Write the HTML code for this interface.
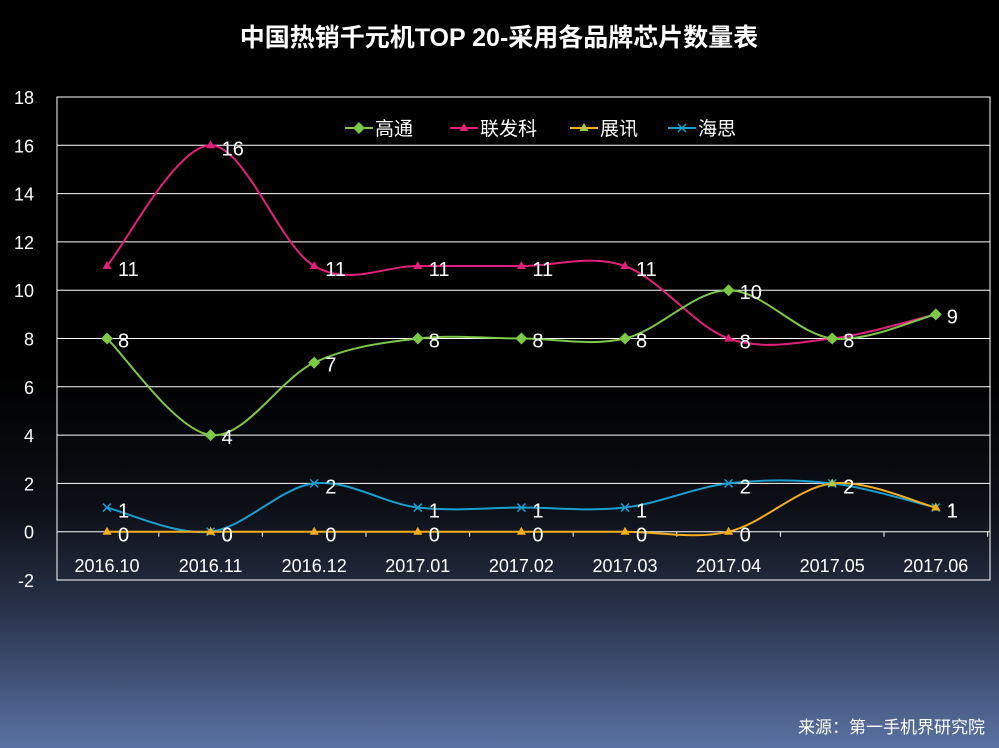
<!DOCTYPE html>
<html><head><meta charset="utf-8"><style>
html,body{margin:0;padding:0}
body{width:999px;height:748px;overflow:hidden;background:linear-gradient(to bottom,#000 0%,#000 50%,#0c0f16 68%,#2a344c 82%,#5a72a3 100%);font-family:"Liberation Sans","Noto Sans CJK SC",sans-serif}
svg{position:absolute;left:0;top:0}
</style></head><body>
<svg width="999" height="748" id="c">
<text x="499" y="46" text-anchor="middle" fill="#fff" font-size="25" font-weight="bold" font-family="Liberation Sans,Noto Sans CJK SC,sans-serif">中国热销千元机TOP 20-采用各品牌芯片数量表</text>
<text x="985" y="733" text-anchor="end" fill="#fff" font-size="17" font-family="Liberation Sans,Noto Sans CJK SC,sans-serif">来源：第一手机界研究院</text>
<g id="grid"></g>
<g id="series"></g>
<g id="legend"></g>
</svg>
<script>
const categories=["2016.10","2016.11","2016.12","2017.01","2017.02","2017.03","2017.04","2017.05","2017.06"];
const yTicks=[-2,0,2,4,6,8,10,12,14,16,18];
const seriesNames=["高通","联发科","展讯","海思"];
const qualcomm=[8,4,7,8,8,8,10,8,9];
const mediatek=[11,16,11,11,11,11,8,8,9];
const spreadtrum=[0,0,0,0,0,0,0,2,1];
const hisilicon=[1,0,2,1,1,1,2,2,1];
const colors=["#7dc847","#e0207a","#f5ad1c","#1a9fd0"];
const L=57,R=990,T=97,B=580,ymin=-2,ymax=18;
const x=i=>107+i*103.6;
const y=v=>B-(v-ymin)/(ymax-ymin)*(B-T);
const NS="http://www.w3.org/2000/svg";
function mk(t,a,p){const e=document.createElementNS(NS,t);for(const k in a)e.setAttribute(k,a[k]);p.appendChild(e);return e;}
const g=document.getElementById('grid');
yTicks.forEach(v=>{
 if(v>ymin&&v<ymax){const l=mk('line',{x1:L,x2:R,y1:y(v),y2:y(v),stroke:'#fff','stroke-width':1},g);
 
 }
 const t=mk('text',{x:34,y:y(v)+7,'text-anchor':'end',fill:'#fff','font-size':18},g);t.textContent=v;
 
 
});
const box=mk('rect',{x:L,y:T,width:R-L,height:B-T,fill:'none',stroke:'#fff','stroke-width':1},g);


categories.forEach((c,i)=>{
 const tk=mk('line',{x1:x(i)+51.8,x2:x(i)+51.8,y1:y(0),y2:y(0)+5,stroke:'#fff'},g);
 
 
 const t=mk('text',{x:x(i),y:572,'text-anchor':'middle',fill:'#fff','font-size':18},g);t.textContent=c;
 
 
});
function smooth(pts){let d=`M${pts[0][0]},${pts[0][1]}`;for(let i=0;i<pts.length-1;i++){const p0=pts[i-1]||pts[i],p1=pts[i],p2=pts[i+1],p3=pts[i+2]||p2;const t=1/6;d+=` C${p1[0]+(p2[0]-p0[0])*t},${p1[1]+(p2[1]-p0[1])*t} ${p2[0]-(p3[0]-p1[0])*t},${p2[1]-(p3[1]-p1[1])*t} ${p2[0]},${p2[1]}`;}return d;}
function marker(k,cx,cy,p,col){
 if(k==0)return mk('polygon',{points:`${cx},${cy-6} ${cx+6},${cy} ${cx},${cy+6} ${cx-6},${cy}`,fill:col},p);
 if(k==1||k==2)return mk('polygon',{points:`${cx},${cy-5} ${cx+4.5},${cy+3} ${cx-4.5},${cy+3}`,fill:k==2&&cy<y(1.5)?'#a8c84a':col},p);
 const gg=mk('g',{},p);mk('path',{d:`M${cx-4},${cy-4}L${cx+4},${cy+4}M${cx-4},${cy+4}L${cx+4},${cy-4}`,stroke:col,'stroke-width':1.5},gg);return gg;
}
const sg=document.getElementById('series');
const all=[qualcomm,mediatek,spreadtrum,hisilicon];
[3,2,1,0].forEach(k=>{
 const data=all[k];const pts=data.map((v,i)=>[x(i),y(v)]);
 const p=mk('path',{d:smooth(pts),fill:'none',stroke:colors[k],'stroke-width':2},sg);
 
 
 data.forEach((v,i)=>{
  const m=marker(k,x(i),y(v),sg,colors[k]);
  
  
  if(k==1&&v==qualcomm[i])return;
  const t=mk('text',{x:x(i)+11,y:y(v)+(k==0?9:10),fill:'#fff','font-size':20},sg);t.textContent=v;
  
  
 });
});
const lg=document.getElementById('legend');
const lx=[345,450,570,668];
seriesNames.forEach((n,k)=>{
 const e=mk('g',{},lg);
 
 
 mk('line',{x1:lx[k],x2:lx[k]+28,y1:128,y2:128,stroke:colors[k],'stroke-width':2},e);
 marker(k,lx[k]+14,128,e,colors[k]);
 const t=mk('text',{x:lx[k]+30,y:135,fill:'#fff','font-size':19},e);t.textContent=n;
});
</script>
</body></html>
